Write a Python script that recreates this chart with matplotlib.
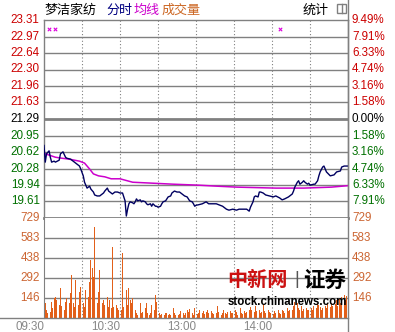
import matplotlib.pyplot as plt
from matplotlib.lines import Line2D
from matplotlib.patches import Rectangle

plt.rcParams['font.family'] = ['Liberation Sans', 'Noto Sans CJK SC', 'DejaVu Sans']

# 数据
prev_close = 21.29
price_ticks = [23.31, 22.97, 22.64, 22.30, 21.96, 21.63, 21.29, 20.95, 20.62, 20.28, 19.94, 19.61]
pct_labels = ['9.49%', '7.91%', '6.33%', '4.74%', '3.16%', '1.58%', '0.00%',
              '1.58%', '3.16%', '4.74%', '6.33%', '7.91%']
price_low, price_high = 19.27, 23.31
vol_ticks = [146, 292, 438, 583, 729]
time_ticks = [0, 60, 120, 180]
time_labels = ['09:30', '10:30', '13:00', '14:00']
event_minutes = [4, 9, 186]

price_min = [0, 1, 2, 4, 5, 6, 8, 9, 12, 13, 15, 17, 18, 21, 24, 26, 28, 29, 31, 32,
             34, 36, 37, 39, 40, 42, 44, 47, 48, 50, 51, 53, 54, 56, 58, 60, 62, 63, 64, 65,
             66, 67, 68, 70, 71, 72, 73, 74, 76, 77, 78, 80, 81, 82, 84, 85, 86, 88, 89, 90,
             92, 93, 94, 96, 97, 98, 100, 101, 102, 103, 105, 106, 107, 109, 110, 111, 113, 114, 115, 117,
             118, 119, 120, 122, 125, 128, 130, 133, 136, 138, 141, 144, 146, 149, 152, 154, 157, 160, 162, 163,
             165, 166, 167, 169, 170, 171, 173, 175, 178, 181, 183, 186, 188, 190, 193, 196, 197, 198, 200, 201,
             202, 204, 205, 206, 208, 209, 210, 213, 214, 216, 217, 218, 220, 221, 222, 223, 226, 229, 231, 234,
             235, 237, 240]
price_val = [20.75, 20.41, 20.58, 20.64, 20.51, 20.41, 20.43, 20.41, 20.45, 20.58, 20.62, 20.51, 20.49, 20.47, 20.41, 20.37, 20.33, 20.27, 20.13, 20.00,
             19.88, 19.92, 19.86, 19.80, 19.74, 19.72, 19.72, 19.78, 19.82, 19.88, 19.82, 19.78, 19.76, 19.80, 19.80, 19.78, 19.78, 19.70, 19.62, 19.31,
             19.45, 19.56, 19.60, 19.58, 19.56, 19.60, 19.66, 19.62, 19.64, 19.60, 19.62, 19.60, 19.56, 19.54, 19.56, 19.51, 19.56, 19.51, 19.51, 19.49,
             19.51, 19.56, 19.60, 19.62, 19.66, 19.70, 19.72, 19.78, 19.80, 19.82, 19.80, 19.80, 19.80, 19.76, 19.74, 19.72, 19.70, 19.66, 19.62, 19.60,
             19.56, 19.51, 19.53, 19.54, 19.56, 19.60, 19.56, 19.56, 19.56, 19.54, 19.51, 19.45, 19.43, 19.45, 19.43, 19.45, 19.45, 19.45, 19.41, 19.49,
             19.60, 19.70, 19.72, 19.70, 19.80, 19.80, 19.78, 19.74, 19.72, 19.70, 19.72, 19.68, 19.64, 19.66, 19.70, 19.76, 19.82, 19.90, 20.00, 20.03,
             19.96, 20.00, 20.03, 20.00, 19.96, 19.98, 19.94, 19.96, 19.96, 20.03, 20.13, 20.21, 20.31, 20.33, 20.27, 20.21, 20.13, 20.15, 20.21, 20.23,
             20.31, 20.33, 20.33]

avg_min = [1, 9, 14, 20, 24, 28, 32, 36, 39, 43, 48, 53, 60, 70, 86, 102, 122, 136, 152, 183, 205, 227, 240]
avg_val = [20.58, 20.51, 20.49, 20.47, 20.45, 20.43, 20.39, 20.27, 20.17, 20.13, 20.11, 20.07, 20.07, 20.00,
           19.98, 19.96, 19.94, 19.92, 19.90, 19.88, 19.88, 19.90, 19.93]

volume = [265, 107, 58, 40, 34, 46, 119, 70, 143, 155,
          131, 143, 95, 216, 85, 34, 58, 119, 143, 95,
          107, 180, 310, 107, 83, 277, 119, 95, 192, 228,
          289, 107, 83, 204, 386, 155, 265, 420, 362, 301,
          666, 569, 107, 192, 350, 155, 107, 131, 95, 60,
          155, 83, 131, 70, 520, 83, 46, 95, 70, 58,
          131, 60, 471, 83, 58, 204, 95, 216, 131, 107,
          143, 83, 58, 34, 22, 46, 107, 34, 46, 30,
          70, 110, 34, 25, 40, 95, 107, 60, 168, 119,
          155, 34, 22, 30, 15, 25, 40, 34, 20, 30,
          22, 107, 70, 34, 25, 40, 22, 30, 50, 46,
          34, 25, 40, 58, 46, 63, 30, 34, 25, 70,
          46, 30, 40, 58, 25, 35, 50, 30, 45, 60,
          35, 25, 50, 40, 30, 55, 40, 90, 45, 30,
          25, 40, 60, 35, 30, 45, 25, 50, 35, 40,
          30, 60, 45, 25, 35, 70, 40, 30, 50, 35,
          45, 30, 55, 80, 60, 75, 45, 90, 50, 40,
          60, 35, 45, 100, 50, 40, 30, 55, 45, 35,
          40, 30, 50, 35, 45, 60, 40, 30, 55, 50,
          35, 45, 70, 50, 60, 80, 55, 90, 120, 200,
          110, 70, 60, 85, 50, 65, 45, 70, 55, 60,
          50, 75, 60, 85, 90, 70, 110, 95, 80, 60,
          75, 55, 90, 70, 100, 65, 80, 110, 90, 120,
          100, 130, 90, 140, 110, 150, 120, 170, 130, 160,
          180]

# 颜色
RED = '#cc0000'
GREEN = '#007000'
ORANGE = '#cc6633'
GRID = '#808080'
W, H = 395, 332

fig = plt.figure(figsize=(W / 100, H / 100), dpi=100)
left, right = 44 / W, 348 / W
ax = fig.add_axes([left, 1 - 218 / H, right - left, 198 / H])
axv = fig.add_axes([left, 1 - 318 / H, right - left, 100 / H], sharex=ax)

# 价格区
ax.set_xlim(0, 240)
ax.set_ylim(price_low, price_high)
for v in price_ticks[1:]:
    ax.axhline(v, color=GRID, lw=2 if v == prev_close else 1, zorder=1)
for m in range(30, 240, 30):
    ax.axvline(m, color=GRID, lw=0.8, ls=(0, (1, 2)), zorder=1)
    axv.axvline(m, color=GRID, lw=0.8, ls=(0, (1, 2)), zorder=1)

ax.plot(avg_min, avg_val, color='#cc00cc', lw=1.1, zorder=3)
ax.plot(price_min, price_val, color='#000060', lw=1.0, zorder=4)
ax.scatter(event_minutes, [0.957] * len(event_minutes), marker='x', s=6, lw=0.8,
           color='#dd00dd', transform=ax.get_xaxis_transform(), zorder=5)

for v, pl in zip(price_ticks, pct_labels):
    c = RED if v > prev_close else (GREEN if v < prev_close else 'black')
    ax.text(-0.014, v, f'{v:.2f}', transform=ax.get_yaxis_transform(),
            ha='right', va='center', color=c, fontsize=8.4)
    ax.text(1.013, v, pl, transform=ax.get_yaxis_transform(),
            ha='left', va='center', color=c, fontsize=8.4)

ax.set_xticks([])
ax.set_yticks([])
for s in ax.spines.values():
    s.set_color(GRID)
    s.set_linewidth(1)
ax.spines['bottom'].set_linewidth(2)

# 成交量
axv.bar(range(len(volume)), volume, width=0.65, color='#e2601a', zorder=3)
axv.set_ylim(0, 729)
for v in vol_ticks[:-1]:
    axv.axhline(v, color=GRID, lw=1, zorder=1)
for v in vol_ticks:
    axv.text(-0.014, v, str(v), transform=axv.get_yaxis_transform(),
             ha='right', va='center', color=ORANGE, fontsize=8.4)
    axv.text(1.013, v, str(v), transform=axv.get_yaxis_transform(),
             ha='left', va='center', color=ORANGE, fontsize=8.4)
for m, lab in zip(time_ticks, time_labels):
    axv.text(m, -0.03, lab, transform=axv.get_xaxis_transform(),
             ha='right', va='top', color='#888888', fontsize=8.4)
axv.set_xticks([])
axv.set_yticks([])
for s in axv.spines.values():
    s.set_visible(False)
axv.spines['left'].set_visible(True)
axv.spines['left'].set_color(GRID)

# 外框线
fig.add_artist(Line2D([right, right], [0, 1], transform=fig.transFigure, color=GRID, lw=1))
fig.add_artist(Line2D([0, right], [1 - 318 / H] * 2, transform=fig.transFigure, color=GRID, lw=1))

# 标题
cjk = ['Noto Sans CJK SC', 'DejaVu Sans']
ty = 1 - 10 / H
fig.text(45 / W, ty, '梦洁家纺', family=cjk, fontsize=9.4, va='center', color='black')
fig.text(106 / W, ty, '分时', family=cjk, fontsize=9.4, va='center', color='#000080')
fig.text(134 / W, ty, '均线', family=cjk, fontsize=9.4, va='center', color='#cc00cc')
fig.text(162 / W, ty, '成交量', family=cjk, fontsize=9.4, va='center', color='#cc6622')
fig.text(303 / W, ty, '统计', family=cjk, fontsize=9.4, va='center', color='black')
fig.add_artist(Rectangle((337 / W, 1 - 13 / H), 9 / W, 9 / H, transform=fig.transFigure,
                         fill=False, edgecolor=GRID, lw=1))
fig.add_artist(Line2D([341.5 / W] * 2, [1 - 13 / H, 1 - 4 / H], transform=fig.transFigure,
                      color=GRID, lw=1))

# 水印
fig.text(227 / W, 1 - 280 / H, '中新网', family=cjk, fontsize=14.5, fontweight='bold',
         color='#cc1111', va='center', zorder=10)
fig.text(294 / W, 1 - 280 / H, '|', fontsize=13, color='#555555', va='center', zorder=10)
fig.text(303 / W, 1 - 280 / H, '证券', family=cjk, fontsize=15.5, fontweight='bold',
         color='black', va='center', zorder=10)
fig.text(228 / W, 1 - 302 / H, 'stock.chinanews.com', fontsize=8.3, fontweight='bold',
         color='black', va='center', zorder=10)

fig.savefig('out.png', dpi=100)
